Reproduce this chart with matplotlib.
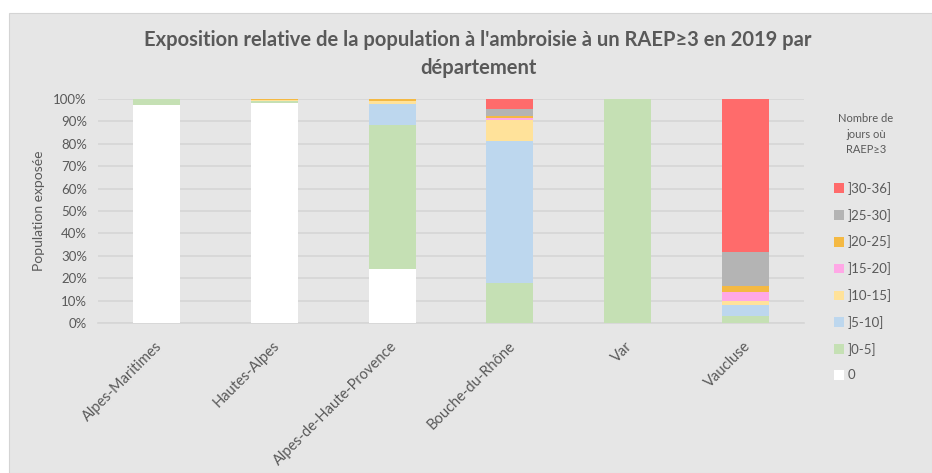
import numpy as np
import matplotlib
matplotlib.use("Agg")
import matplotlib.pyplot as plt
import matplotlib.transforms as mtransforms
from matplotlib.patches import Rectangle, Patch

plt.rcParams["font.family"] = ["Lato", "DejaVu Sans"]

# ── Data (share of population, %) ─────────────
departements = ["Alpes-Maritimes", "Hautes-Alpes", "Alpes-de-Haute-Provence",
                "Bouche-du-Rhône", "Var", "Vaucluse"]
classes = ["0", "]0-5]", "]5-10]", "]10-15]", "]15-20]", "]20-25]", "]25-30]", "]30-36]"]

zero     = [97.3, 98.3, 24.0,  0.0,   0.0,  0.0]
d0_5     = [ 2.7,  0.7, 64.2, 17.7, 100.0,  3.3]
d5_10    = [ 0.0,  0.0,  9.5, 63.7,   0.0,  4.7]
d10_15   = [ 0.0,  0.4,  1.4,  9.2,   0.0,  1.8]
d15_20   = [ 0.0,  0.0,  0.0,  1.0,   0.0,  4.0]
d20_25   = [ 0.0,  0.6,  0.9,  0.8,   0.0,  2.7]
d25_30   = [ 0.0,  0.0,  0.0,  3.1,   0.0, 15.1]
d30_36   = [ 0.0,  0.0,  0.0,  4.5,   0.0, 68.4]

series = [zero, d0_5, d5_10, d10_15, d15_20, d20_25, d25_30, d30_36]
colors = ["#ffffff", "#c5e0b4", "#bdd7ee", "#ffe29a",
          "#ffa8e6", "#f4b943", "#b4b4b4", "#ff6b6b"]

BG = "#e6e6e6"
TXT = "#595959"

fig = plt.figure(figsize=(9.32, 4.73), dpi=100, facecolor="white")
fig.patches.append(Rectangle((9 / 932, 0), 1 - 9 / 932, 1 - 13 / 473,
                             transform=fig.transFigure, facecolor=BG,
                             edgecolor="#d4d4d4", linewidth=0.8, zorder=-10))

ax = fig.add_axes([98 / 932, 1 - 323 / 473, (804 - 98) / 932, (323 - 99) / 473])
ax.set_facecolor(BG)

x = np.arange(len(departements))
bottom = np.zeros(len(departements))
for vals, col in zip(series, colors):
    ax.bar(x, vals, 0.4, bottom=bottom, color=col, edgecolor="none", zorder=3)
    bottom += np.array(vals)

ax.set_xlim(-0.5, len(departements) - 0.5)
ax.set_ylim(0, 100)
ax.set_yticks(np.arange(0, 101, 10))
ax.set_yticklabels([f"{v}%" for v in range(0, 101, 10)], fontsize=9.5, color=TXT)
ax.grid(axis="y", color="#d6d6d6", linewidth=1.2, zorder=0)
ax.tick_params(length=0, pad=8)
for s in ax.spines.values():
    s.set_visible(False)
ax.spines["bottom"].set_visible(True)
ax.spines["bottom"].set_color("#d6d6d6")
ax.spines["bottom"].set_linewidth(1.2)

ax.set_xticks(x)
ax.set_xticklabels(departements, rotation=45, ha="right", va="center",
                   rotation_mode="anchor", fontsize=10.5, color=TXT)
ax.tick_params(axis="x", pad=15)
shift = mtransforms.ScaledTranslation(3 / 100, 0, fig.dpi_scale_trans)
for lbl in ax.get_xticklabels():
    lbl.set_transform(lbl.get_transform() + shift)

ax.set_ylabel("Population exposée", fontsize=10, color=TXT, labelpad=6)

fig.text(478 / 932, 1 - 54 / 473,
         "Exposition relative de la population à l'ambroisie à un RAEP≥3 en 2019 par\ndépartement",
         ha="center", va="center", fontsize=14.5, fontweight="bold", color=TXT,
         linespacing=1.45)

handles = [Patch(facecolor=c, edgecolor="none") for c in colors][::-1]
labels = classes[::-1]
fig.text(866 / 932, 1 - 134 / 473, "Nombre de\njours où\nRAEP≥3", ha="center",
         va="center", fontsize=8, color=TXT, linespacing=1.5)
leg = fig.legend(handles, labels, loc="upper left",
                 bbox_to_anchor=(822 / 932, 1 - 170 / 473),
                 frameon=False, fontsize=9.5, labelcolor=TXT,
                 handlelength=0.75, handleheight=0.75, handletextpad=0.3,
                 labelspacing=1.05)

fig.savefig("out.png", dpi=100, facecolor="white")
